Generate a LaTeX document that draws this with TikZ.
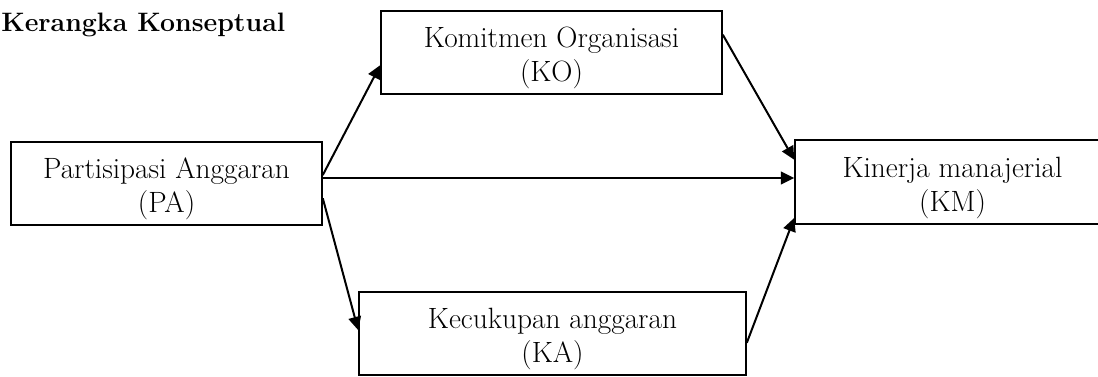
\documentclass[tikz,border=0pt]{standalone}
\usepackage{fontspec}
\usetikzlibrary{calc,arrows.meta}
\newcommand\toppad{\rule{0pt}{24pt}}
\begin{document}
\begin{tikzpicture}[x=0.75pt,y=-0.75pt,
  varbox/.style={draw,line width=1.2pt,rectangle,inner sep=0pt,align=center,
    minimum height=83*0.75pt,font=\fontsize{22}{25.5}\selectfont},
  arr/.style={line width=1.5pt,-{Triangle[length=10pt,width=9.5pt]}}]
\clip (0,0) rectangle (1098,376);
% title
\node[anchor=base west,inner sep=0pt,font=\fontsize{20}{24}\selectfont\bfseries] (title) at (1,31) {Kerangka Konseptual};
% variables
\node[varbox,minimum width=311*0.75pt] (pa) at (166.5,183.5) {\toppad Partisipasi Anggaran\\(PA)};
\node[varbox,minimum width=341*0.75pt] (ko) at (551.5,52.5) {\toppad Komitmen Organisasi\\(KO)};
\node[varbox,minimum width=315*0.75pt,minimum height=84*0.75pt] (km) at (952.5,182) {\toppad Kinerja manajerial\\(KM)};
\node[varbox,minimum width=387*0.75pt] (ka) at (552.5,333.5) {\toppad Kecukupan anggaran\\(KA)};
% attachment points
\coordinate (pa1) at ($(pa.north east)!0.40!(pa.south east)$);
\coordinate (pa2) at ($(pa.north east)!0.435!(pa.south east)$);
\coordinate (pa3) at ($(pa.north east)!0.675!(pa.south east)$);
\coordinate (koin) at ($(ko.north west)!0.65!(ko.south west)$);
\coordinate (koout) at ($(ko.north east)!0.29!(ko.south east)$);
\coordinate (kain) at ($(ka.north west)!0.46!(ka.south west)$);
\coordinate (kaout) at ($(ka.north east)!0.61!(ka.south east)$);
\coordinate (km1) at ($(km.north west)!0.24!(km.south west)$);
\coordinate (km3) at ($(km.north west)!0.92!(km.south west)$);
% paths
\draw[arr] (pa1) -- (koin);
\draw[arr] (pa2) -- (pa2 -| km.west);
\draw[arr] (pa3) -- (kain);
\draw[arr] (koout) -- (km1);
\draw[arr] (kaout) -- (km3);
\end{tikzpicture}
\end{document}
